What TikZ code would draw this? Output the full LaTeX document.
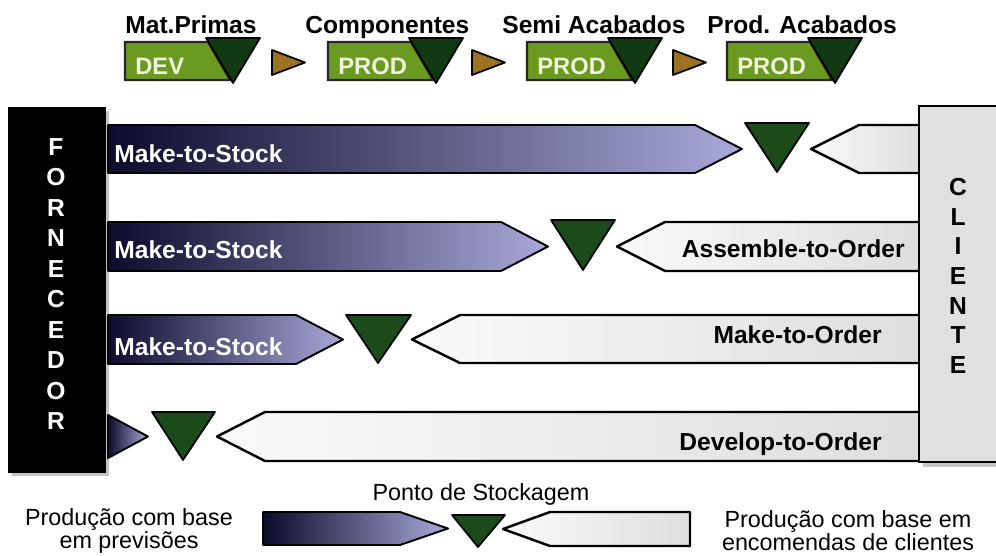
\documentclass[tikz,border=0pt]{standalone}
\usepackage{fontspec}
\setmainfont{Liberation Sans}
\usetikzlibrary{calc}
\definecolor{navy}{HTML}{0C0B2B}
\definecolor{lavender}{HTML}{A9A9DA}
\definecolor{orderwhite}{HTML}{FAFAFA}
\definecolor{ordergray}{HTML}{DEDEDE}
\definecolor{clientgray}{HTML}{E0E0E0}
\definecolor{stockgreen}{HTML}{1B4A1B}
\definecolor{stagegreen}{HTML}{6B9A20}
\definecolor{stagedark}{HTML}{113A12}
\definecolor{flowbrown}{HTML}{9B7222}
\definecolor{prodwhite}{HTML}{F2F3DE}
\tikzset{
  stockbar/.style={draw=black, line width=1.1pt, line join=round,
    left color=navy, right color=lavender},
  orderbar/.style={draw=black, line width=1.4pt, line join=round,
    left color=orderwhite, right color=ordergray},
  stockpt/.style={draw=black, line width=1pt, line join=round, fill=stockgreen},
  stagebox/.style={draw=black!85, line width=1.2pt, fill=stagegreen},
  stagetri/.style={draw=black, line width=1pt, line join=round, fill=stagedark},
  flowtri/.style={draw=black, line width=1pt, line join=round, fill=flowbrown},
  stagehead/.style={inner sep=0pt, font=\fontsize{14}{16}\selectfont\bfseries},
  stagelabel/.style={inner sep=0pt, text=prodwhite,
    font=\fontsize{13.5}{16}\selectfont\bfseries},
  barlabel/.style={inner sep=0pt, font=\fontsize{14}{16}\selectfont\bfseries},
  sideletter/.style={inner sep=0pt, font=\fontsize{14}{16}\selectfont\bfseries},
  legendtext/.style={inner sep=0pt, align=center,
    font=\fontsize{13.3}{13}\selectfont},
}

\begin{document}
\begin{tikzpicture}[x=0.02cm, y=-0.02cm]
  \useasboundingbox (0,0) rectangle (996,555);

  % stages along the top
  \foreach \l/\hx/\head/\lab [count=\i] in {125/125/Mat.Primas/DEV,
      328/305/Componentes/PROD, 527/502/Semi Acabados/PROD,
      727/707/Prod. Acabados/PROD}{
    \draw[stagebox] (\l,42) -- (\l+83,42) -- (\l+105,80) -- (\l,80) -- cycle;
    \draw[stagetri] (\l+81,38) -- (\l+135,38) -- (\l+108,83) -- cycle;
    \node[stagelabel, anchor=base west] (stage\i) at (\l+10,74) {\lab};
    \node[stagehead, anchor=base west] (head\i) at (\hx,33) {\head};
  }
  \foreach \x in {272,472,673}
    \draw[flowtri] (\x,50) -- (\x+33,62.5) -- (\x,75) -- cycle;

  % supplier column
  \fill[gray!45] (12,111) rectangle (109,476);
  \draw[fill=black] (8,107) rectangle (105,472);
  \foreach \ch [count=\i] in {F,O,R,N,E,C,E,D,O,R}
    \node[sideletter, text=white] (forn\i) at (56,116.5+30.5*\i) {\ch};

  % row 1
  \draw[stockbar] (108,125) -- (695,125) -- (742,149) -- (695,173) -- (108,173) -- cycle;
  \draw[stockpt] (745,123) -- (809,123) -- (777,172) -- cycle;
  \draw[orderbar] (920,125) -- (859,125) -- (811,149) -- (859,173) -- (920,173) -- cycle;
  \node[barlabel, text=white, anchor=base west] (mts1) at (114,162) {Make-to-Stock};

  % row 2
  \draw[stockbar] (108,222) -- (501,222) -- (548,246.5) -- (501,271) -- (108,271) -- cycle;
  \draw[stockpt] (551,220) -- (615,220) -- (583,270) -- cycle;
  \draw[orderbar] (920,222) -- (665,222) -- (617,246.5) -- (665,271) -- (920,271) -- cycle;
  \node[barlabel, text=white, anchor=base west] (mts2) at (114,258) {Make-to-Stock};
  \node[barlabel, anchor=base east] (ato) at (905,257) {Assemble-to-Order};

  % row 3
  \draw[stockbar] (108,315) -- (296,315) -- (343,339.5) -- (296,364) -- (108,364) -- cycle;
  \draw[stockpt] (346,315) -- (411,315) -- (378,363) -- cycle;
  \draw[orderbar] (920,315) -- (460,315) -- (412,339.5) -- (460,363) -- (920,363) -- cycle;
  \node[barlabel, text=white, anchor=base west] (mts3) at (114,355) {Make-to-Stock};
  \node[barlabel, anchor=base east] (mto) at (882,343) {Make-to-Order};

  % row 4
  \draw[stockbar] (108,415) -- (148,436.5) -- (108,458) -- cycle;
  \draw[stockpt] (152,412) -- (215,412) -- (183,460) -- cycle;
  \draw[orderbar] (920,412) -- (265,412) -- (217,436.5) -- (265,461) -- (920,461) -- cycle;
  \node[barlabel, anchor=base east] (dto) at (882,450) {Develop-to-Order};

  % customer column
  \fill[gray!45] (923,110) rectangle (1002,467);
  \draw[fill=clientgray, line width=1.4pt] (919,106) rectangle (1002,462);
  \foreach \ch [count=\i] in {C,L,I,E,N,T,E}
    \node[sideletter] (cli\i) at (958,157.3+29.7*\i) {\ch};

  % legend
  \draw[stockbar] (263,512) -- (400,512) -- (448,528.5) -- (400,545) -- (263,545) -- cycle;
  \draw[stockpt] (452,515) -- (505,515) -- (478,547) -- cycle;
  \draw[orderbar] (690,512) -- (550,512) -- (503,529) -- (550,546) -- (690,546) -- cycle;
  \node[legendtext, anchor=base] (stockpoint) at (481,500) {Ponto de Stockagem};
  \node[legendtext] (forecast) at (129,531) {Produção com base\\em previsões};
  \node[legendtext] (customer) at (848,531) {Produção com base em\\encomendas de clientes};
\end{tikzpicture}
\end{document}
